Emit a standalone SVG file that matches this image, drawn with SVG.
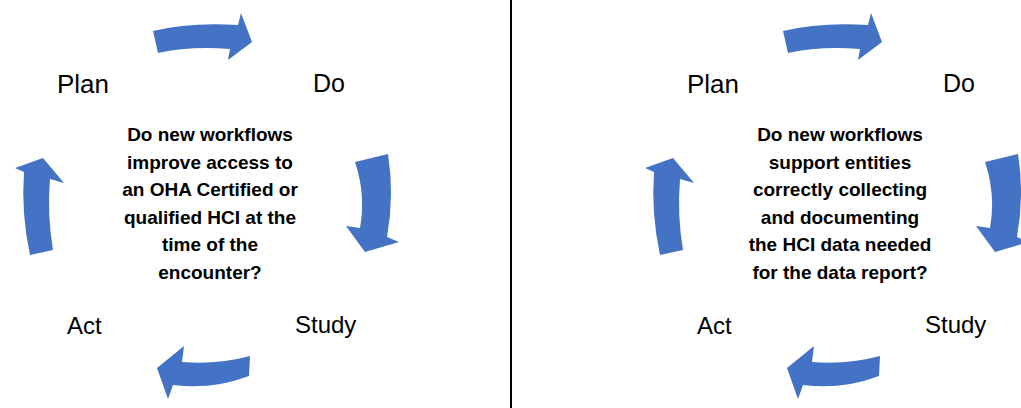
<svg xmlns="http://www.w3.org/2000/svg" width="1021" height="408" viewBox="0 0 1021 408">
<style>
.arrow{fill:#4472C4;stroke:none}
.lbl{font-family:"Liberation Sans",Arial,sans-serif;fill:#000}
.q{font-family:"Liberation Sans",Arial,sans-serif;font-weight:bold;font-size:19px;fill:#000;text-anchor:middle}
.div{stroke:#000;stroke-width:2}
</style>
<defs>
<g id="arrows">
<path class="arrow" d="M153,31 Q190,22 238,25 L241,13 L252,42 L228,60 L230,49 Q190,46 158,53 Z"/>
<path class="arrow" d="M355,162 L388,154 Q394.5,195 387,237 L399,242 L365,252 L346,226 L360,228 Q366,195 355,162 Z"/>
<path class="arrow" d="M250,356 Q216,365 182,362 L184,346 L157,368 L168,399 L173,385 Q212,390 249,376 Z"/>
<path class="arrow" d="M30,255 Q21,213 24,172 L15,168 L43,158 L64,183 L50,179 Q47,215 53,250 Z"/>
</g>
</defs>
<rect x="0" y="0" width="1021" height="408" fill="#fff"/>
<g id="connectors">
<use href="#arrows"/>
<use href="#arrows" transform="translate(630,0)"/>
</g>
<line class="div" x1="511" y1="0" x2="511" y2="408"/>
<g id="left-plan"><text class="lbl" x="57" y="93" font-size="26">Plan</text></g>
<g id="left-do"><text class="lbl" x="313" y="92" font-size="25">Do</text></g>
<g id="left-study"><text class="lbl" x="295" y="333" font-size="24">Study</text></g>
<g id="left-act"><text class="lbl" x="67" y="334" font-size="24">Act</text></g>
<g id="left-question">
<text class="q" x="210" y="141">Do new workflows</text>
<text class="q" x="210" y="168.5">improve access to</text>
<text class="q" x="210" y="196">an OHA Certified or</text>
<text class="q" x="210" y="223.5">qualified HCI at the</text>
<text class="q" x="210" y="251">time of the</text>
<text class="q" x="210" y="278.5">encounter?</text>
</g>
<g id="right-plan"><text class="lbl" x="687" y="93" font-size="26">Plan</text></g>
<g id="right-do"><text class="lbl" x="943" y="92" font-size="25">Do</text></g>
<g id="right-study"><text class="lbl" x="925" y="333" font-size="24">Study</text></g>
<g id="right-act"><text class="lbl" x="697" y="334" font-size="24">Act</text></g>
<g id="right-question">
<text class="q" x="840" y="141">Do new workflows</text>
<text class="q" x="840" y="168.5">support entities</text>
<text class="q" x="840" y="196">correctly collecting</text>
<text class="q" x="840" y="223.5">and documenting</text>
<text class="q" x="840" y="251">the HCI data needed</text>
<text class="q" x="840" y="278.5">for the data report?</text>
</g>
</svg>
